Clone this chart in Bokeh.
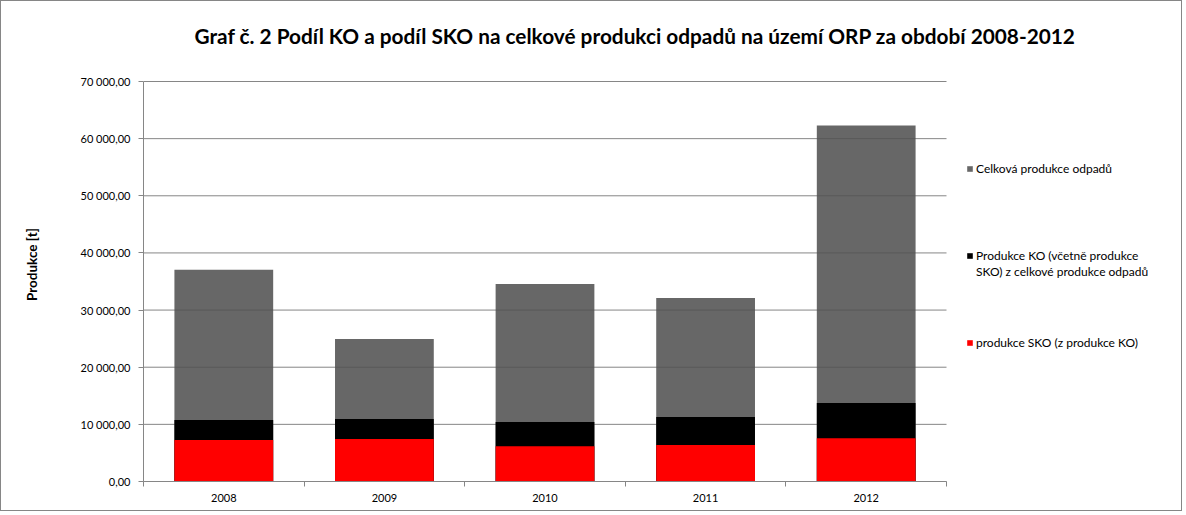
from bokeh.plotting import figure
from bokeh.models import (FixedTicker, Legend, LegendItem, Range1d,
                          ColumnDataSource)
from bokeh.embed import file_html
from bokeh.resources import INLINE

# ---- data -------------------------------------------------------------
years = ["2008", "2009", "2010", "2011", "2012"]
celkova = [37050, 24950, 34580, 32120, 62300]       # Celková produkce odpadů
produkce_ko = [10750, 10920, 10400, 11270, 13720]   # Produkce KO
produkce_sko = [7250, 7420, 6190, 6370, 7590]       # produkce SKO
y_ticks = [0, 10000, 20000, 30000, 40000, 50000, 60000, 70000]
y_max = 70000

title_text = ("Graf č. 2 Podíl KO a podíl SKO na celkové produkci odpadů "
              "na území ORP za období 2008-2012")
series_names = ["Celková produkce odpadů",
                "Produkce KO (včetně produkce",
                "produkce SKO (z produkce KO)"]
series_name_ko_line2 = "SKO) z celkové produkce odpadů"
colors = ["#505050", "#000000", "#FF0000"]
alphas = [0.87, 1.0, 1.0]

FONT = "Lato"
GRID = "#868686"
BAR_W = 0.615

# ---- layout (pixels) ---------------------------------------------------
W, H = 1182, 511
LEFT, TOP, BOTTOM = 142, 46, 31
FRAME_W = W - LEFT              # frame runs to the right edge (legend lives inside it)
FRAME_H = H - BOTTOM - TOP
PLOT_W, PLOT_H = 803, 400       # visible chart area (axes extent)

xs = [i + 0.5 for i in range(len(years))]
src = ColumnDataSource(dict(x=xs, total=celkova, ko=produkce_ko, sko=produkce_sko))

p = figure(width=W, height=H, output_backend="svg", toolbar_location=None,
           x_range=Range1d(0, len(years) * FRAME_W / PLOT_W),
           y_range=Range1d(0, y_max * FRAME_H / PLOT_H),
           min_border_left=LEFT, min_border_right=0, min_border_top=TOP,
           min_border_bottom=BOTTOM)
p.outline_line_color = None
p.background_fill_color = "white"
p.border_fill_color = "white"
p.xgrid.visible = False
p.ygrid.visible = False

# horizontal gridlines restricted to the chart area
p.segment(x0=0, x1=len(years), y0=y_ticks, y1=y_ticks, line_color=GRID,
          line_width=1)

r_total = p.vbar(x="x", top="total", bottom=0, width=BAR_W, source=src,
                 fill_color=colors[0], fill_alpha=alphas[0], line_color=None)
r_ko = p.vbar(x="x", top="ko", bottom=0, width=BAR_W, source=src,
              fill_color=colors[1], line_color=None)
r_sko = p.vbar(x="x", top="sko", bottom=0, width=BAR_W, source=src,
               fill_color=colors[2], line_color=None)

# title
p.title.text = title_text
p.title.text_font = FONT
p.title.text_font_size = "20.8px"
p.title.text_font_style = "bold"
p.title.text_color = "black"
p.title.align = "left"
p.title.offset = 51
p.title.standoff = 0

# y axis
def fmt(v):
    return f"{v:,.2f}".replace(",", " ").replace(".", ",")

yax = p.yaxis[0]
yax.bounds = (0, y_max)
yax.ticker = FixedTicker(ticks=y_ticks, minor_ticks=[])
yax.major_label_overrides = {v: fmt(v) for v in y_ticks}
yax.axis_line_color = GRID
yax.major_tick_line_color = GRID
yax.major_tick_in = 0
yax.major_tick_out = 5
yax.minor_tick_line_color = None
yax.major_label_text_font = FONT
yax.major_label_text_font_size = "11px"
yax.major_label_text_color = "black"
yax.major_label_standoff = 8
yax.axis_label = "Produkce [t]"
yax.axis_label_text_font = FONT
yax.axis_label_text_font_size = "13.5px"
yax.axis_label_text_font_style = "bold"
yax.axis_label_text_color = "black"
yax.axis_label_standoff = 38

# x axis: labels at centres, ticks at category boundaries
xax = p.xaxis[0]
xax.bounds = (0, len(years))
xax.ticker = FixedTicker(ticks=xs, minor_ticks=list(range(len(years) + 1)))
xax.major_label_overrides = {x: y for x, y in zip(xs, years)}
xax.axis_line_color = GRID
xax.major_tick_line_color = None
xax.major_tick_in = 0
xax.major_tick_out = 0
xax.minor_tick_line_color = GRID
xax.minor_tick_in = 0
xax.minor_tick_out = 5
xax.major_label_text_font = FONT
xax.major_label_text_font_size = "11px"
xax.major_label_text_color = "black"
xax.major_label_standoff = 7

# legend entries to the right of the chart area
legend_style = dict(label_text_font=FONT, label_text_font_size="12px",
                    label_text_color="black", glyph_height=7,
                    padding=0, margin=0, spacing=0,
                    border_line_color=None, background_fill_alpha=0,
                    label_height=16)
renderers = [r_total, r_ko, r_sko]
locs = [(823, 305), (823, 218), (823, 131)]
for name, r, loc in zip(series_names, renderers, locs):
    p.add_layout(Legend(items=[LegendItem(label=name, renderers=[r])],
                        location=loc, glyph_width=7, label_standoff=3,
                        **legend_style), "center")
# second line of the KO entry
p.add_layout(Legend(items=[LegendItem(label=series_name_ko_line2, renderers=[r_ko])],
                    location=(823, 202), glyph_width=0, label_standoff=10,
                    **legend_style), "center")

p.styles = {"border": "1px solid #868686"}

open("out.html", "w").write(file_html(p, INLINE))
